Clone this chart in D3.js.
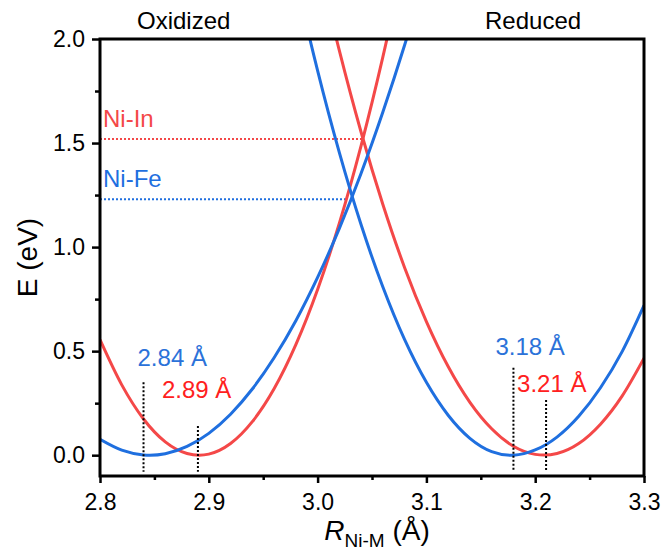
<!DOCTYPE html>
<html>
<head>
<meta charset="utf-8">
<script src="https://cdn.jsdelivr.net/npm/d3@7"></script>
<style>
  html, body { margin: 0; padding: 0; background: #fff; }
  svg { display: block; font-family: Arial, "Liberation Sans", sans-serif; }
</style>
</head>
<body>
<svg id="chart" width="663" height="550"></svg>
<script>
// Potential energy curves, E (eV) versus Ni–M distance (Å)
const rOxNiFe = [2.80, 2.82, 2.84, 2.86, 2.88, 2.90, 2.92, 2.94, 2.96, 2.98, 3.00, 3.02, 3.04, 3.06, 3.08, 3.10];
const eOxNiFe = [0.076, 0.024, 0.001, 0.007, 0.042, 0.105, 0.197, 0.318, 0.468, 0.646, 0.854, 1.090, 1.355, 1.649, 1.971, 2.323];

const rOxNiIn = [2.80, 2.82, 2.84, 2.86, 2.88, 2.90, 2.92, 2.94, 2.96, 2.98, 3.00, 3.02, 3.04, 3.06, 3.08];
const eOxNiIn = [0.555, 0.338, 0.174, 0.064, 0.008, 0.005, 0.056, 0.161, 0.319, 0.531, 0.796, 1.115, 1.488, 1.914, 2.393];

const rRedNiFe = [2.96, 2.98, 3.00, 3.02, 3.04, 3.06, 3.08, 3.10, 3.12, 3.14, 3.16, 3.18, 3.20, 3.22, 3.24, 3.26, 3.28, 3.30];
const eRedNiFe = [2.778, 2.290, 1.848, 1.454, 1.107, 0.808, 0.555, 0.350, 0.192, 0.081, 0.017, 0.000, 0.025, 0.087, 0.187, 0.324, 0.499, 0.720];

const rRedNiIn = [2.98, 3.00, 3.02, 3.04, 3.06, 3.08, 3.10, 3.12, 3.14, 3.16, 3.18, 3.20, 3.22, 3.24, 3.26, 3.28, 3.30];
const eRedNiIn = [2.859, 2.380, 1.944, 1.552, 1.205, 0.901, 0.642, 0.426, 0.254, 0.127, 0.043, 0.004, 0.008, 0.056, 0.149, 0.285, 0.466];

// Equilibrium distances (Å) and their labels
const eqValues = [2.84, 2.89, 3.18, 3.21];
const eqLabels = ["2.84 Å", "2.89 Å", "3.18 Å", "3.21 Å"];
const eqTop = [0.35, 0.14, 0.42, 0.265];
const eqSeries = ["Ni-Fe", "Ni-In", "Ni-Fe", "Ni-In"];

// Crossing energies (eV) and where the curves intersect (Å)
const crossNames = ["Ni-In", "Ni-Fe"];
const crossE = [1.52, 1.23];
const crossR = [3.041, 3.027];

// Axis ticks
const xTicks = [2.8, 2.9, 3.0, 3.1, 3.2, 3.3];
const xMinorTicks = [2.85, 2.95, 3.05, 3.15, 3.25];
const yTicks = [0.0, 0.5, 1.0, 1.5, 2.0];
const yMinorTicks = [0.25, 0.75, 1.25, 1.75];

const colors = { "Ni-Fe": "#1f6fdf", "Ni-In": "#f44848" };
const labelColors = { "Ni-Fe": "#2b72d9", "Ni-In": "#ff2020" };

const svg = d3.select("#chart");
const pLeft = 100, pRight = 644, pTop = 39, pBottom = 476;

const x = d3.scaleLinear().domain([2.8, 3.3]).range([pLeft, pRight]);
const y = d3.scaleLinear().domain([-0.1, 2.0]).range([pBottom, pTop]);

svg.append("defs").append("clipPath").attr("id", "plotClip")
  .append("rect")
  .attr("x", pLeft).attr("y", pTop)
  .attr("width", pRight - pLeft).attr("height", pBottom - pTop);

const plot = svg.append("g").attr("clip-path", "url(#plotClip)");

// Horizontal dotted guides at the crossing energies
crossNames.forEach((name, i) => {
  plot.append("line")
    .attr("x1", x(2.8)).attr("x2", x(crossR[i]))
    .attr("y1", y(crossE[i])).attr("y2", y(crossE[i]))
    .attr("stroke", colors[name])
    .attr("stroke-width", 2)
    .attr("stroke-dasharray", "2,2");
});

const line = d3.line()
  .x(d => x(d[0]))
  .y(d => y(d[1]))
  .curve(d3.curveCatmullRom.alpha(0));

const curves = [
  { name: "Ni-In", r: rOxNiIn, e: eOxNiIn },
  { name: "Ni-In", r: rRedNiIn, e: eRedNiIn },
  { name: "Ni-Fe", r: rOxNiFe, e: eOxNiFe },
  { name: "Ni-Fe", r: rRedNiFe, e: eRedNiFe }
];

curves.forEach(c => {
  plot.append("path")
    .datum(d3.zip(c.r, c.e))
    .attr("fill", "none")
    .attr("stroke", colors[c.name])
    .attr("stroke-width", 3)
    .attr("stroke-linejoin", "round")
    .attr("d", line);
});

// Vertical dotted markers at the equilibrium distances
eqValues.forEach((v, i) => {
  svg.append("line")
    .attr("x1", x(v)).attr("x2", x(v))
    .attr("y1", y(eqTop[i])).attr("y2", y(-0.08))
    .attr("stroke", "#000")
    .attr("stroke-width", 2)
    .attr("stroke-dasharray", "2,2");
});

// Equilibrium labels
const eqLabelPos = [
  { dx: -6, e: 0.43 },
  { dx: -36, e: 0.275 },
  { dx: -18, e: 0.48 },
  { dx: -29, e: 0.305 }
];
eqValues.forEach((v, i) => {
  svg.append("text")
    .attr("x", x(v) + eqLabelPos[i].dx)
    .attr("y", y(eqLabelPos[i].e))
    .attr("fill", labelColors[eqSeries[i]])
    .attr("font-size", 24)
    .text(eqLabels[i]);
});

// Series name labels above the crossing guides
crossNames.forEach((name, i) => {
  svg.append("text")
    .attr("x", pLeft + 3)
    .attr("y", y(crossE[i]) - 12)
    .attr("fill", colors[name])
    .attr("font-size", 24)
    .text(name);
});

// Axes
const xAxis = d3.axisBottom(x)
  .tickValues(xTicks)
  .tickFormat(d3.format(".1f"))
  .tickSize(7).tickSizeOuter(0).tickPadding(11);
const gx = svg.append("g").attr("transform", `translate(0,${pBottom})`).call(xAxis);
gx.select(".domain").remove();
gx.selectAll(".tick line").attr("stroke-width", 2.5);
gx.selectAll(".tick text").attr("font-size", 23).attr("fill", "#000").attr("font-family", "Arial, 'Liberation Sans', sans-serif");

const xMinorAxis = d3.axisBottom(x).tickValues(xMinorTicks).tickFormat("").tickSize(4).tickSizeOuter(0);
const gxm = svg.append("g").attr("transform", `translate(0,${pBottom})`).call(xMinorAxis);
gxm.select(".domain").remove();
gxm.selectAll(".tick line").attr("stroke-width", 2.5);

const yAxis = d3.axisLeft(y)
  .tickValues(yTicks)
  .tickFormat(d3.format(".1f"))
  .tickSize(8).tickSizeOuter(0).tickPadding(7);
const gy = svg.append("g").attr("transform", `translate(${pLeft},0)`).call(yAxis);
gy.select(".domain").remove();
gy.selectAll(".tick line").attr("stroke-width", 2.5);
gy.selectAll(".tick text").attr("font-size", 23).attr("fill", "#000").attr("font-family", "Arial, 'Liberation Sans', sans-serif");

const yMinorAxis = d3.axisLeft(y).tickValues(yMinorTicks).tickFormat("").tickSize(5).tickSizeOuter(0);
const gym = svg.append("g").attr("transform", `translate(${pLeft},0)`).call(yMinorAxis);
gym.select(".domain").remove();
gym.selectAll(".tick line").attr("stroke-width", 2.5);

// Frame
svg.append("rect")
  .attr("x", pLeft).attr("y", pTop)
  .attr("width", pRight - pLeft).attr("height", pBottom - pTop)
  .attr("fill", "none")
  .attr("stroke", "#000")
  .attr("stroke-width", 3);

// State headers
svg.append("text").attr("x", 137).attr("y", 29).attr("font-size", 24).attr("fill", "#000").text("Oxidized");
svg.append("text").attr("x", 485).attr("y", 29).attr("font-size", 24).attr("fill", "#000").text("Reduced");

// Axis titles
svg.append("text")
  .attr("transform", `translate(37,${(pTop + pBottom) / 2}) rotate(-90)`)
  .attr("text-anchor", "middle")
  .attr("font-size", 28)
  .attr("fill", "#000")
  .text("E (eV)");

const xt = svg.append("text")
  .attr("x", (pLeft + pRight) / 2 + 5)
  .attr("y", 540)
  .attr("text-anchor", "middle")
  .attr("font-size", 28)
  .attr("fill", "#000");
xt.append("tspan").attr("font-style", "italic").text("R");
xt.append("tspan").attr("font-size", 19).attr("dy", 7).text("Ni-M");
xt.append("tspan").attr("dy", -7).text(" (Å)");
</script>
</body>
</html>
